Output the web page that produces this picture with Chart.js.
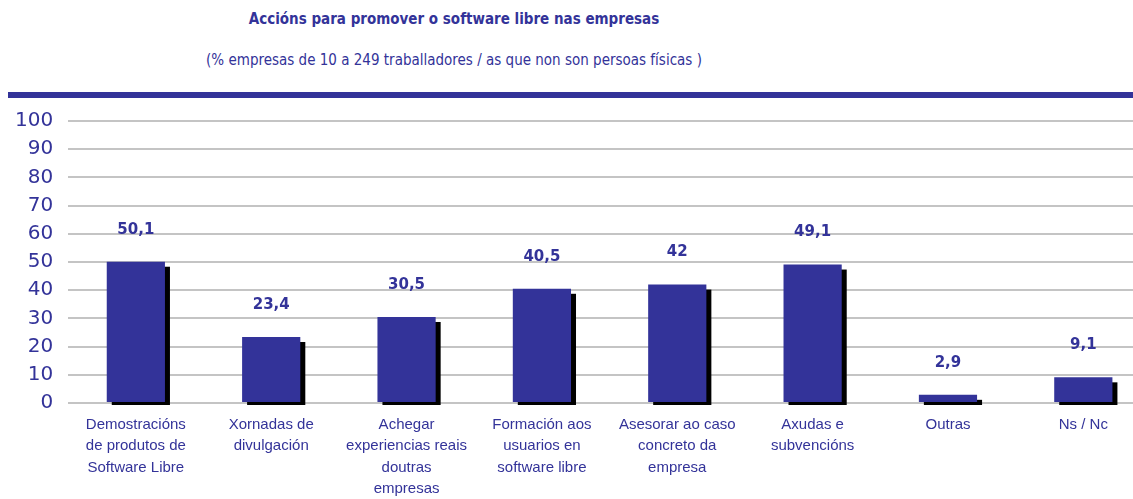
<!DOCTYPE html>
<html>
<head>
<meta charset="utf-8">
<script src="https://cdn.jsdelivr.net/npm/chart.js@4.4.0/dist/chart.umd.min.js"></script>
<style>
  body { margin: 0; width: 1133px; height: 499px; overflow: hidden; background: #fff; position: relative; }
  .title { position: absolute; left: 0; width: 908px; text-align: center; color: #333399; font-family: "DejaVu Sans Condensed", "DejaVu Sans", sans-serif; }
  #t1 { top: 10px; font-size: 15px; font-weight: bold; }
  #t2 { top: 51px; font-size: 15px; }
  #rule { position: absolute; left: 8px; top: 92px; width: 1125px; height: 6px; background: #333399; }
  #wrap { position: absolute; left: 0; top: 0; width: 1160px; height: 499px; }
</style>
</head>
<body>
<div class="title" id="t1">Accións para promover o software libre nas empresas</div>
<div class="title" id="t2">(% empresas de 10 a 249 traballadores / as que non son persoas físicas )</div>
<div id="rule"></div>
<div id="wrap"><canvas id="chart" width="1160" height="499"></canvas></div>
<script>
const categories = [
    ["Demostracións", "de produtos de", "Software Libre"],
    ["Xornadas de", "divulgación"],
    ["Achegar", "experiencias reais", "doutras", "empresas"],
    ["Formación aos", "usuarios en", "software libre"],
    ["Asesorar ao caso", "concreto da", "empresa"],
    ["Axudas e", "subvencións"],
    ["Outras"],
    ["Ns / Nc"]
];
const values = [50.1, 23.4, 30.5, 40.5, 42, 49.1, 2.9, 9.1];
const yTicks = [0, 10, 20, 30, 40, 50, 60, 70, 80, 90, 100];

const blue = '#333399';

// black drop shadow behind every bar
const barShadow = {
    id: 'barShadow',
    beforeDatasetsDraw(chart) {
        const ctx = chart.ctx;
        const meta = chart.getDatasetMeta(0);
        ctx.save();
        ctx.fillStyle = '#000';
        meta.data.forEach(bar => {
            const w = bar.width;
            ctx.fillRect(bar.x - w / 2 + 5, bar.y + 5, w, bar.base - bar.y - 2);
        });
        ctx.restore();
    }
};

// value labels above bars, with comma decimals
const valueLabels = {
    id: 'valueLabels',
    afterDatasetsDraw(chart) {
        const ctx = chart.ctx;
        const meta = chart.getDatasetMeta(0);
        ctx.save();
        ctx.fillStyle = blue;
        ctx.font = 'bold 15px "DejaVu Sans"';
        ctx.textAlign = 'center';
        ctx.textBaseline = 'middle';
        meta.data.forEach((bar, i) => {
            ctx.fillText(String(values[i]).replace('.', ','), bar.x, bar.y - 32);
        });
        ctx.restore();
    }
};

new Chart(document.getElementById('chart'), {
    type: 'bar',
    data: {
        labels: categories,
        datasets: [{
            data: values,
            backgroundColor: blue,
            barPercentage: 0.43,
            categoryPercentage: 1,
        }],
    },
    options: {
        responsive: false,
        animation: false,
        layout: { padding: { top: 121, right: 9, left: 0, bottom: 0 } },
        plugins: {
            legend: { display: false },
            tooltip: { enabled: false },
        },
        scales: {
            x: {
                grid: { display: false, drawTicks: false },
                border: { display: false },
                afterFit(axis) { axis.height = 96; },
                ticks: {
                    color: blue,
                    font: { family: '"Liberation Sans", Arial', size: 15, lineHeight: 1.43 },
                    maxRotation: 0,
                    autoSkip: false,
                    padding: 11,
                },
            },
            y: {
                min: 0,
                max: 100,
                afterBuildTicks(axis) { axis.ticks = yTicks.map(v => ({ value: v })); },
                grid: { color: '#c4c4c4', lineWidth: 2, drawTicks: false },
                border: { display: false },
                ticks: {
                    color: blue,
                    font: { family: '"DejaVu Sans"', size: 20 },
                    padding: 15,
                },
            },
        },
    },
    plugins: [barShadow, valueLabels],
});
</script>
</body>
</html>
